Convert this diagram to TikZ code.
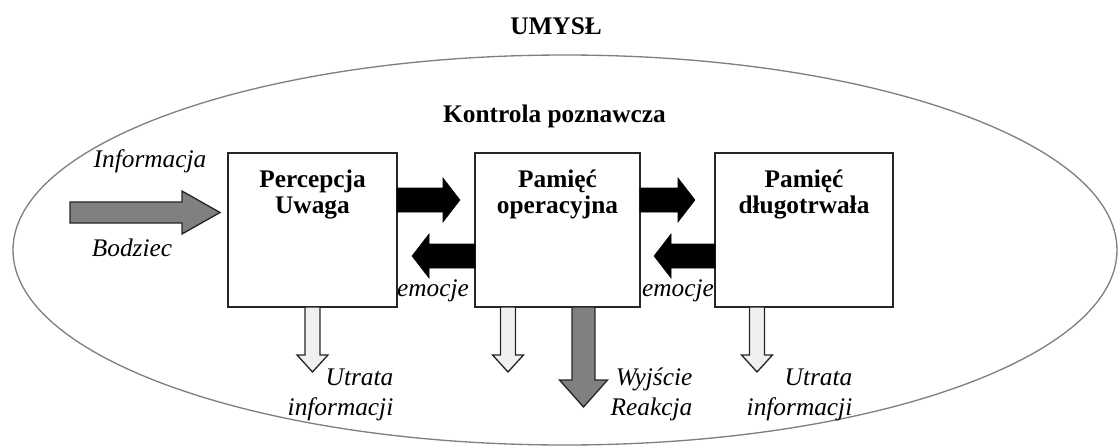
\documentclass[tikz,border=0pt]{standalone}
\usepackage{fontspec}
\setmainfont{Liberation Serif}
\usetikzlibrary{arrows.meta,positioning,calc,shapes.geometric}

% block arrow: [style]{start}{tip}{half shaft}{half head}{head length}
\newcommand{\blokstrzalka}[6][]{%
  \coordinate (bs) at #2;
  \coordinate (bt) at #3;
  \coordinate (bh) at ($(bt)!#6!(bs)$);
  \draw[#1] ($(bs)!#4!90:(bt)$) -- ($(bh)!#4!90:(bt)$) -- ($(bh)!#5!90:(bt)$) -- (bt)
    -- ($(bh)!#5!-90:(bt)$) -- ($(bh)!#4!-90:(bt)$) -- ($(bs)!#4!-90:(bt)$) -- cycle;
}

\begin{document}
\begin{tikzpicture}[x=0.75pt, y=-0.75pt, >=Stealth,
  every node/.style={align=center, font=\fontsize{19}{19.5}\selectfont},
  blok/.style={rectangle, draw=black!85, line width=1.2pt, minimum height=115.5pt, inner sep=0pt, outer sep=0pt},
  tytul/.style={font=\fontsize{19}{19.5}\selectfont\bfseries, anchor=base},
  opis/.style={font=\fontsize{19}{22.5}\selectfont\itshape, anchor=base},
  czarna/.style={fill=black, draw=black, line width=0.4pt},
  szara/.style={fill=black!50, draw=black!85, line width=1pt},
  jasna/.style={fill=black!6, draw=black!85, line width=1pt}]
  \useasboundingbox (0,0) rectangle (1118,446);

  \node[ellipse, draw=black!50, line width=1pt, minimum width=828pt, minimum height=292.5pt, inner sep=0pt] (umysl) at (565,250) {};
  \node[tytul] (umyslT) at (556,34) {UMYSŁ};
  \node[tytul] (kontrola) at (554.5,122) {Kontrola poznawcza};

  \node[blok, minimum width=126.75pt] (perc) at (312.5,230) {};
  \node[blok, minimum width=123.75pt, right=58.5pt of perc] (pam) {};
  \node[blok, minimum width=133.5pt, right=56.25pt of pam] (dlug) {};

  \node[tytul] (percT) at ($(perc.north)+(0,60)$) {Percepcja\\Uwaga};
  \node[tytul] (pamT) at ($(pam.north)+(0,60)$) {Pamięć\\operacyjna};
  \node[tytul] (dlugT) at ($(dlug.north)+(0,60)$) {Pamięć\\długotrwała};

  % wejscie
  \coordinate (bodziec) at (70,212.5);
  \blokstrzalka[szara]{(bodziec)}{($(perc.west)+(-8,-17.5)$)}{7.9pt}{16.1pt}{28.5pt}
  \node[opis] (informacja) at (150,167) {Informacja};
  \node[opis] (bodziecT) at (132,256) {Bodziec};

  % miedzy blokami
  \blokstrzalka[czarna]{($(perc.east)+(0,-30)$)}{($(pam.west)+(-15,-30)$)}{9pt}{16.5pt}{12.75pt}
  \blokstrzalka[czarna]{($(pam.west)+(0,26)$)}{($(perc.east)+(15,26)$)}{9pt}{16.5pt}{12.75pt}
  \blokstrzalka[czarna]{($(pam.east)+(0,-30)$)}{($(dlug.west)+(-20,-30)$)}{9pt}{16.5pt}{12.75pt}
  \blokstrzalka[czarna]{($(dlug.west)+(0,26)$)}{($(pam.east)+(14,26)$)}{9pt}{16.5pt}{12.75pt}
  \node[opis] (emocje1) at (433,296) {emocje};
  \node[opis] (emocje2) at (678,296) {emocje};

  % wyjscia
  \coordinate (utrata1) at ($(perc.south)+(0,65)$);
  \coordinate (utrata2) at ($(pam.south)+(-49.5,65)$);
  \coordinate (utrata3) at ($(dlug.south)+(-47,65)$);
  \coordinate (reakcja) at ($(pam.south)+(26,100)$);
  \blokstrzalka[jasna]{(perc.south)}{(utrata1)}{5.6pt}{11.6pt}{12.75pt}
  \blokstrzalka[jasna]{($(pam.south)+(-49.5,0)$)}{(utrata2)}{5.6pt}{11.6pt}{12.75pt}
  \blokstrzalka[jasna]{($(dlug.south)+(-47,0)$)}{(utrata3)}{5.6pt}{11.6pt}{12.75pt}
  \blokstrzalka[szara]{($(pam.south)+(26,0)$)}{(reakcja)}{8.6pt}{18pt}{20.25pt}

  \node[opis, align=right, anchor=base east] (utrataT1) at (398,415) {Utrata\\informacji};
  \node[opis, align=right, anchor=base east] (wyjscie) at (697,415) {Wyjście\\Reakcja};
  \node[opis, align=right, anchor=base east] (utrataT3) at (857,415) {Utrata\\informacji};
\end{tikzpicture}
\end{document}
